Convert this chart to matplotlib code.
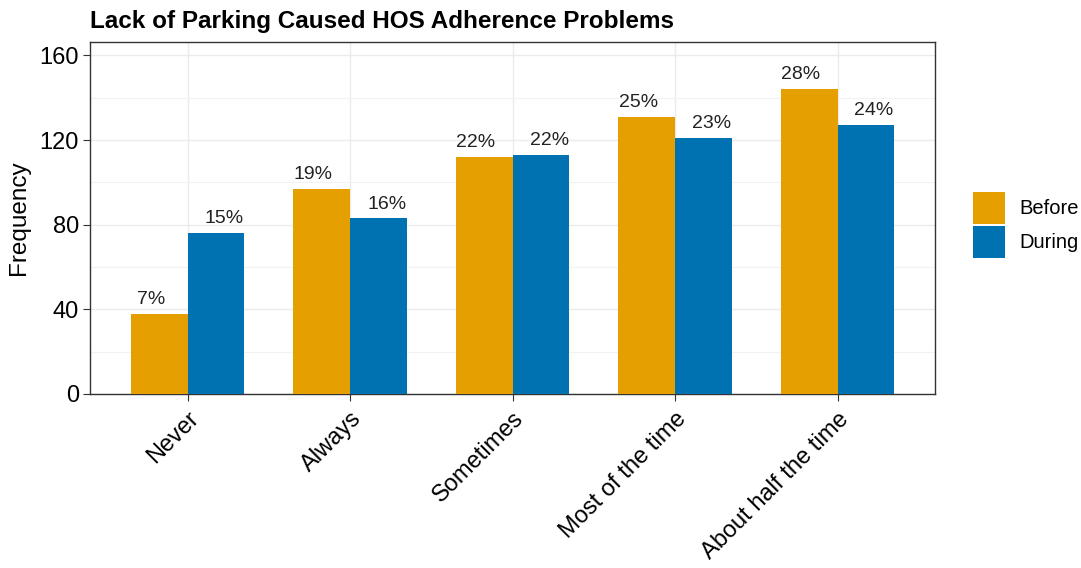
import numpy as np
import matplotlib.pyplot as plt
from matplotlib.patches import Patch
from matplotlib.ticker import MultipleLocator

plt.rcParams['font.family'] = ['Liberation Sans', 'DejaVu Sans']

# data
categories = ['Never', 'Always', 'Sometimes', 'Most of the time', 'About half the time']
before = [38, 97, 112, 131, 144]
during = [76, 83, 113, 121, 127]
before_pct = ['7%', '19%', '22%', '25%', '28%']
during_pct = ['15%', '16%', '22%', '23%', '24%']

c_before = '#E69F00'
c_during = '#0072B2'

fig = plt.figure(figsize=(10.81, 5.68), dpi=100)
ax = fig.add_axes([90 / 1081, 1 - 394 / 568, 845 / 1081, 352 / 568])

x = np.arange(1, len(categories) + 1)
w = 0.35
ax.bar(x - w / 2, before, width=w, color=c_before, zorder=3)
ax.bar(x + w / 2, during, width=w, color=c_during, zorder=3)

# percentage labels (dodged a bit wider than the bars, like ggplot)
for xi, v, s in zip(x, before, before_pct):
    ax.annotate(s, (xi - 0.225, v), xytext=(0, 7), textcoords='offset points',
                ha='center', va='baseline', fontsize=14, color='#222222', zorder=4)
for xi, v, s in zip(x, during, during_pct):
    ax.annotate(s, (xi + 0.225, v), xytext=(0, 7), textcoords='offset points',
                ha='center', va='baseline', fontsize=14, color='#222222', zorder=4)

ax.set_xlim(0.4, 5.6)
ax.set_ylim(0, 166.3)
ax.yaxis.set_major_locator(MultipleLocator(40))
ax.yaxis.set_minor_locator(MultipleLocator(20))
ax.set_xticks(x)
ax.set_xticklabels(categories, rotation=45, ha='right', va='top',
                   rotation_mode='anchor', fontsize=17)
ax.tick_params(axis='y', labelsize=17, length=5, color='#333333', pad=3)
ax.tick_params(axis='x', length=5, color='#333333', pad=5)
ax.tick_params(which='minor', length=0)

ax.grid(True, which='major', color='#EBEBEB', linewidth=1.0, zorder=0)
ax.grid(True, which='minor', axis='y', color='#F2F2F2', linewidth=0.8, zorder=0)
ax.set_axisbelow(True)
for sp in ax.spines.values():
    sp.set_color('#333333')
    sp.set_linewidth(1.0)

ax.set_ylabel('Frequency', fontsize=17.5, labelpad=7)

fig.text(90 / 1081, 1 - 28 / 568, 'Lack of Parking Caused HOS Adherence Problems',
         fontsize=17.5, fontweight='bold', ha='left', va='baseline')

handles = [Patch(facecolor=c_before, label='Before'),
           Patch(facecolor=c_during, label='During')]
fig.legend(handles=handles, loc='center left', bbox_to_anchor=(955 / 1081, 1 - 225 / 568),
           frameon=False, fontsize=14.5, handlelength=1.6, handleheight=2.06,
           labelspacing=0.1, handletextpad=0.7)

fig.savefig('out.png', dpi=100)
